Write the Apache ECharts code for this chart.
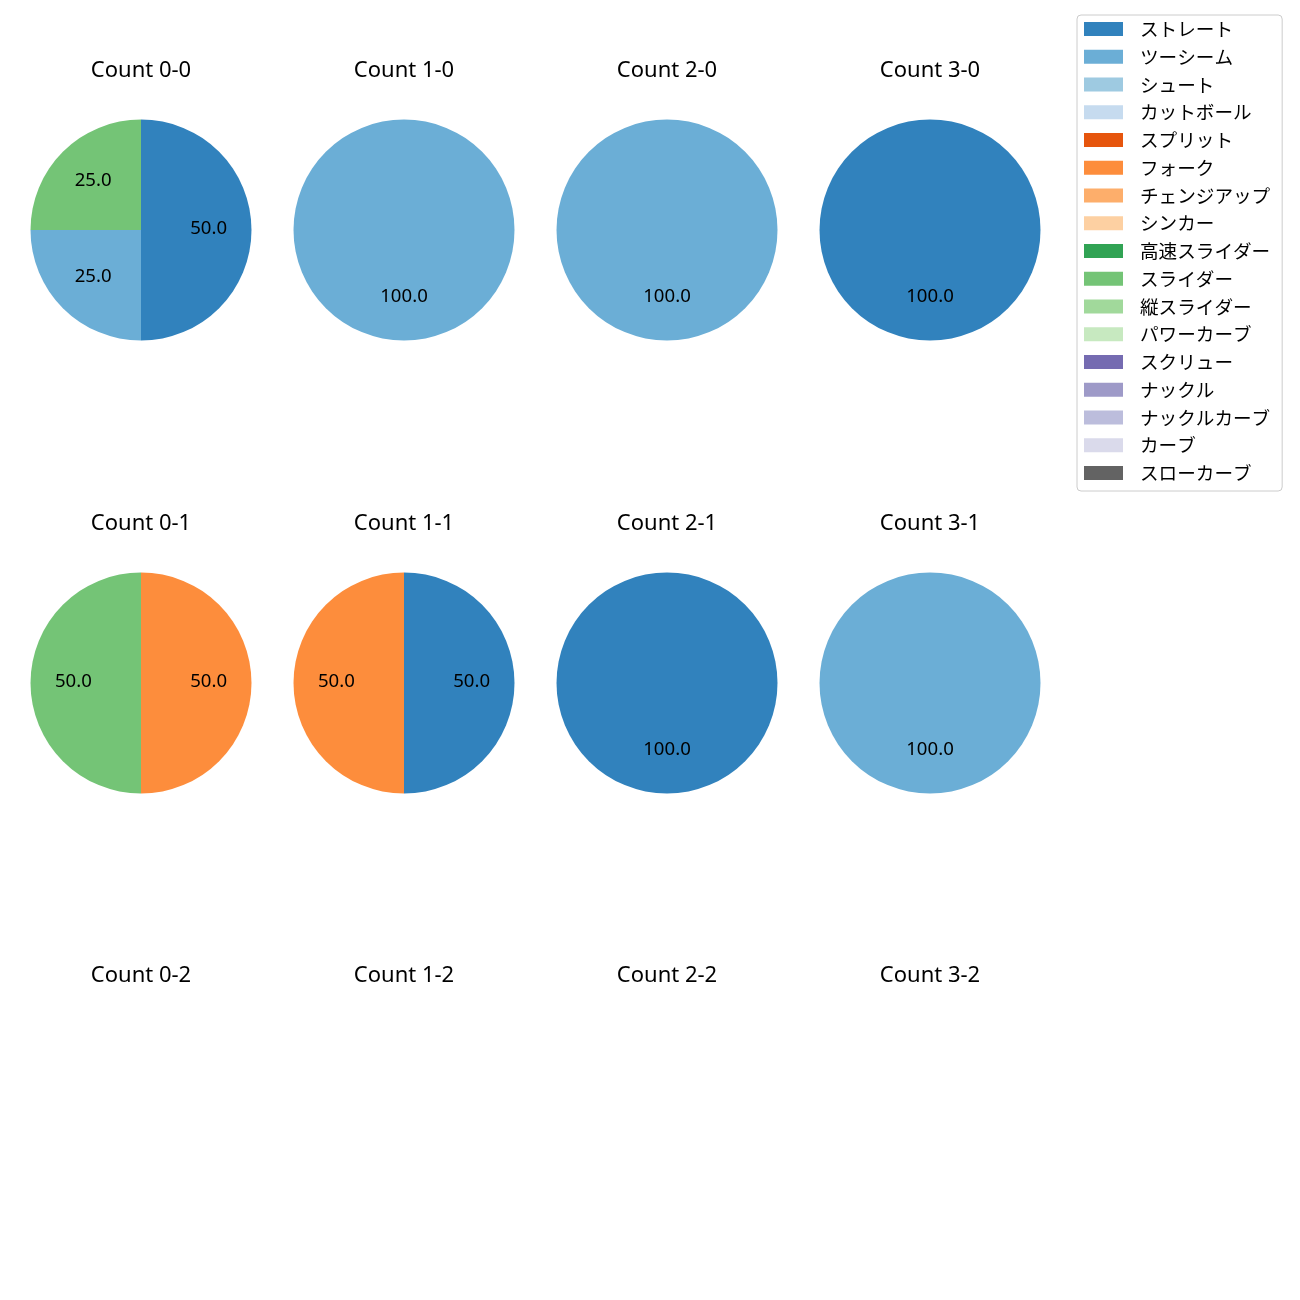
<!DOCTYPE html>
<html>
<head>
<meta charset="utf-8">
<script src="https://cdn.jsdelivr.net/npm/echarts@6/dist/echarts.min.js"></script>
<style>html,body{margin:0;padding:0;background:#fff}#c{width:1300px;height:1300px}</style>
</head>
<body>
<div id="c"></div>
<script>
// Pitch types (legend order) and their colours
const pitchTypes = ['ストレート','ツーシーム','シュート','カットボール','スプリット','フォーク','チェンジアップ','シンカー','高速スライダー','スライダー','縦スライダー','パワーカーブ','スクリュー','ナックル','ナックルカーブ','カーブ','スローカーブ'];
const pitchColors = ['#3182bd','#6baed6','#9ecae1','#c6dbef','#e6550d','#fd8d3c','#fdae6b','#fdd0a2','#31a354','#74c476','#a1d99b','#c7e9c0','#756bb1','#9e9ac8','#bcbddc','#dadaeb','#636363'];

// Panels: columns = balls 0..3, rows = strikes 0..2
const balls = [0, 1, 2, 3];
const strikes = [0, 1, 2];

// Per-count pitch mix (percent)
const names_0_0 = ['ストレート','ツーシーム','スライダー'];
const values_0_0 = [50, 25, 25];
const names_1_0 = ['ツーシーム'];
const values_1_0 = [100];
const names_2_0 = ['ツーシーム'];
const values_2_0 = [100];
const names_3_0 = ['ストレート'];
const values_3_0 = [100];
const names_0_1 = ['フォーク','スライダー'];
const values_0_1 = [50, 50];
const names_1_1 = ['ストレート','フォーク'];
const values_1_1 = [50, 50];
const names_2_1 = ['ストレート'];
const values_2_1 = [100];
const names_3_1 = ['ツーシーム'];
const values_3_1 = [100];
const names_0_2 = [], values_0_2 = [];
const names_1_2 = [], values_1_2 = [];
const names_2_2 = [], values_2_2 = [];
const names_3_2 = [], values_3_2 = [];

const panelData = {
  '0-0': [names_0_0, values_0_0], '1-0': [names_1_0, values_1_0], '2-0': [names_2_0, values_2_0], '3-0': [names_3_0, values_3_0],
  '0-1': [names_0_1, values_0_1], '1-1': [names_1_1, values_1_1], '2-1': [names_2_1, values_2_1], '3-1': [names_3_1, values_3_1],
  '0-2': [names_0_2, values_0_2], '1-2': [names_1_2, values_1_2], '2-2': [names_2_2, values_2_2], '3-2': [names_3_2, values_3_2]
};

// Layout
const FONT = "'Noto Sans', 'Noto Sans CJK JP', sans-serif";
const JFONT = "'Noto Sans CJK JP', sans-serif";
const colX = [141, 404, 667, 930];
const rowY = [230, 683, 1136];
const titleY = [69, 522, 974];
const R = 110.5;
const colorOf = n => pitchColors[pitchTypes.indexOf(n)];

const titles = [];
const series = [];
// hidden series to register all legend entries with their colours
series.push({
  type: 'pie', radius: [0, 0], center: [-100, -100], silent: true, stillShowZeroSum: false,
  label: {show: false}, labelLine: {show: false},
  data: pitchTypes.map((n, i) => ({name: n, value: 0, itemStyle: {color: pitchColors[i]}}))
});

strikes.forEach((s, r) => {
  balls.forEach((b, c) => {
    const key = b + '-' + s;
    titles.push({
      text: 'Count ' + key, left: colX[c], top: titleY[r] - 9, textAlign: 'center', padding: 0,
      textStyle: {fontFamily: FONT, fontSize: 22, fontWeight: 'normal', color: '#000'}
    });
    const [nm, vl] = panelData[key];
    if (!nm.length) return;
    const data = nm.map((n, i) => ({name: n, value: vl[i], itemStyle: {color: colorOf(n)}}));
    series.push({
      type: 'pie', center: [colX[c], rowY[r]], radius: [0, R], startAngle: 90, clockwise: true,
      silent: true, animation: false, label: {show: false}, labelLine: {show: false},
      emphasis: {disabled: true}, data: data
    });
    // transparent overlay to put labels near 0.6 R
    series.push({
      type: 'pie', center: [colX[c], rowY[r]], radius: [0.17 * R, R], startAngle: 90, clockwise: true,
      silent: true, animation: false, labelLine: {show: false}, emphasis: {disabled: true},
      itemStyle: {color: 'rgba(0,0,0,0)'},
      label: {show: true, position: 'inside', fontFamily: FONT, fontSize: 18.6, color: '#000',
        offset: [0, -1], formatter: p => p.value.toFixed(1)},
      data: nm.map((n, i) => ({name: n, value: vl[i], itemStyle: {color: 'rgba(0,0,0,0)'}}))
    });
  });
});

const chart = echarts.init(document.getElementById('c'), null, {renderer: 'canvas'});
chart.setOption({
  backgroundColor: '#fff',
  animation: false,
  title: titles,
  legend: {
    data: pitchTypes, orient: 'vertical', left: 1077, top: 15,
    padding: [4, 12, 8, 7], itemGap: 7.75, itemWidth: 39, itemHeight: 14, icon: 'rect',
    borderColor: '#cccccc', borderWidth: 1, borderRadius: 4, selectedMode: false,
    textStyle: {fontFamily: JFONT, fontSize: 18.6, color: '#000', lineHeight: 20, padding: [0, 0, 0, 12]}
  },
  series: series
});
</script>
</body>
</html>
